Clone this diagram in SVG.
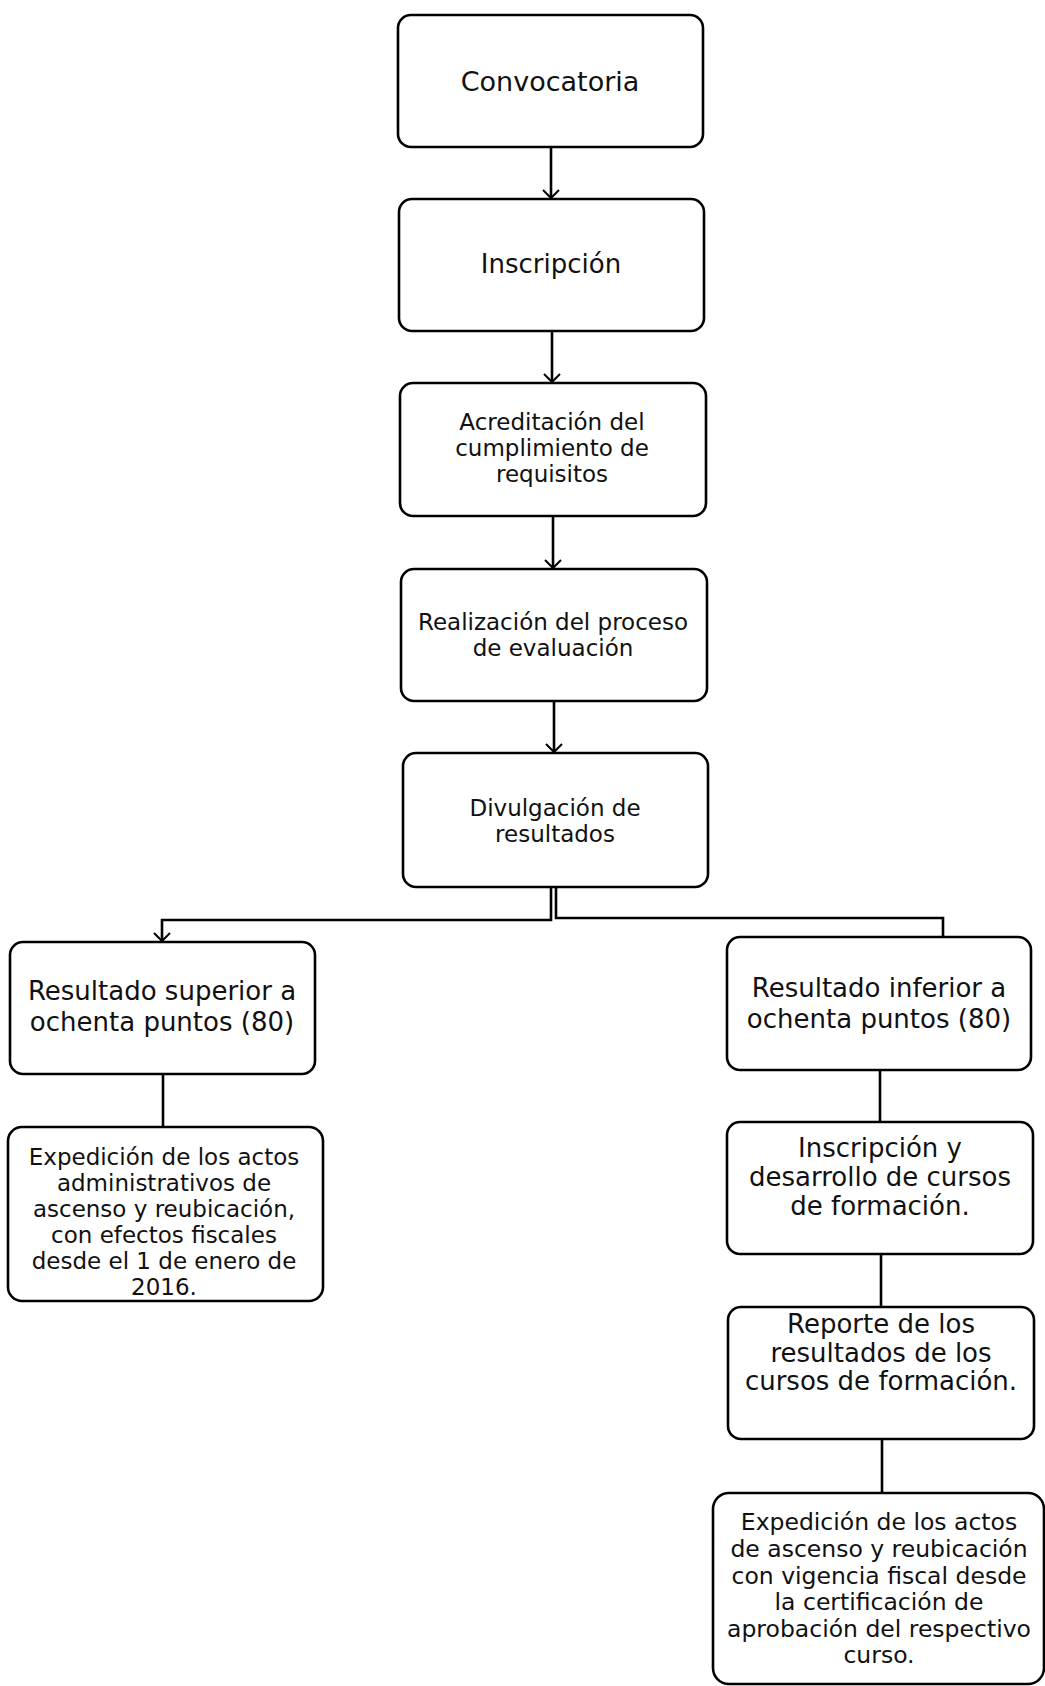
<svg xmlns="http://www.w3.org/2000/svg" width="1045" height="1686" viewBox="0 0 1045 1686">
<defs>
<marker id="arr" markerUnits="userSpaceOnUse" markerWidth="20" markerHeight="20" viewBox="-10 -10 20 20" refX="0" refY="0" orient="auto" overflow="visible">
<path d="M-8,-8 L0,0 L-8,8" fill="none" stroke="#000" stroke-width="2"/>
</marker>
<style>
.box{fill:#fff;stroke:#000;stroke-width:2.6}
.t{font-family:"DejaVu Sans","Liberation Sans",sans-serif;fill:#111;text-anchor:middle}
.c{fill:none;stroke:#000;stroke-width:2.6}
</style>
</defs>
<rect width="1045" height="1686" fill="#fff"/>
<g id="connectors">
<path class="c" d="M551,147 V198" marker-end="url(#arr)"/>
<path class="c" d="M552,331 V382" marker-end="url(#arr)"/>
<path class="c" d="M553,516 V568" marker-end="url(#arr)"/>
<path class="c" d="M554,701 V752" marker-end="url(#arr)"/>
<path class="c" d="M551,887 V920 H162 V941" marker-end="url(#arr)"/>
<path class="c" d="M556,887 V918 H943 V937"/>
<path class="c" d="M163,1074 V1127"/>
<path class="c" d="M880,1070 V1122"/>
<path class="c" d="M881,1254 V1307"/>
<path class="c" d="M882,1439 V1493"/>
</g>
<g id="n1"><rect class="box" x="398" y="15" width="305" height="132" rx="13"/>
<text class="t" font-size="27" x="550" y="91">Convocatoria</text></g>
<g id="n2"><rect class="box" x="399" y="199" width="305" height="132" rx="13"/>
<text class="t" font-size="26" x="551" y="273">Inscripción</text></g>
<g id="n3"><rect class="box" x="400" y="383" width="306" height="133" rx="13"/>
<text class="t" font-size="23" x="552" y="430">Acreditación del</text>
<text class="t" font-size="23" x="552" y="456">cumplimiento de</text>
<text class="t" font-size="23" x="552" y="482">requisitos</text></g>
<g id="n4"><rect class="box" x="401" y="569" width="306" height="132" rx="13"/>
<text class="t" font-size="23" x="553" y="630">Realización del proceso</text>
<text class="t" font-size="23" x="553" y="656">de evaluación</text></g>
<g id="n5"><rect class="box" x="403" y="753" width="305" height="134" rx="13"/>
<text class="t" font-size="23" x="555" y="816">Divulgación de</text>
<text class="t" font-size="23" x="555" y="842">resultados</text></g>
<g id="n6"><rect class="box" x="10" y="942" width="305" height="132" rx="13"/>
<text class="t" font-size="26" x="162" y="1000">Resultado superior a</text>
<text class="t" font-size="26" x="162" y="1031">ochenta puntos (80)</text></g>
<g id="n7"><rect class="box" x="8" y="1127" width="315" height="174" rx="14"/>
<text class="t" font-size="23" x="164" y="1165">Expedición de los actos</text>
<text class="t" font-size="23" x="164" y="1191">administrativos de</text>
<text class="t" font-size="23" x="164" y="1217">ascenso y reubicación,</text>
<text class="t" font-size="23" x="164" y="1243">con efectos fiscales</text>
<text class="t" font-size="23" x="164" y="1269">desde el 1 de enero de</text>
<text class="t" font-size="23" x="164" y="1295">2016.</text></g>
<g id="n8"><rect class="box" x="727" y="937" width="304" height="133" rx="13"/>
<text class="t" font-size="26" x="879" y="997">Resultado inferior a</text>
<text class="t" font-size="26" x="879" y="1028">ochenta puntos (80)</text></g>
<g id="n9"><rect class="box" x="727" y="1122" width="306" height="132" rx="13"/>
<text class="t" font-size="26" x="880" y="1157">Inscripción y</text>
<text class="t" font-size="26" x="880" y="1186">desarrollo de cursos</text>
<text class="t" font-size="26" x="880" y="1215">de formación.</text></g>
<g id="n10"><rect class="box" x="728" y="1307" width="306" height="132" rx="13"/>
<text class="t" font-size="26" x="881" y="1333">Reporte de los</text>
<text class="t" font-size="26" x="881" y="1362">resultados de los</text>
<text class="t" font-size="26" x="881" y="1390">cursos de formación.</text></g>
<g id="n11"><rect class="box" x="713" y="1493" width="331" height="191" rx="16"/>
<text class="t" font-size="23.5" x="879" y="1530">Expedición de los actos</text>
<text class="t" font-size="23.5" x="879" y="1557">de ascenso y reubicación</text>
<text class="t" font-size="23.5" x="879" y="1584">con vigencia fiscal desde</text>
<text class="t" font-size="23.5" x="879" y="1610">la certificación de</text>
<text class="t" font-size="23.5" x="879" y="1637">aprobación del respectivo</text>
<text class="t" font-size="23.5" x="879" y="1663">curso.</text></g>
</svg>
